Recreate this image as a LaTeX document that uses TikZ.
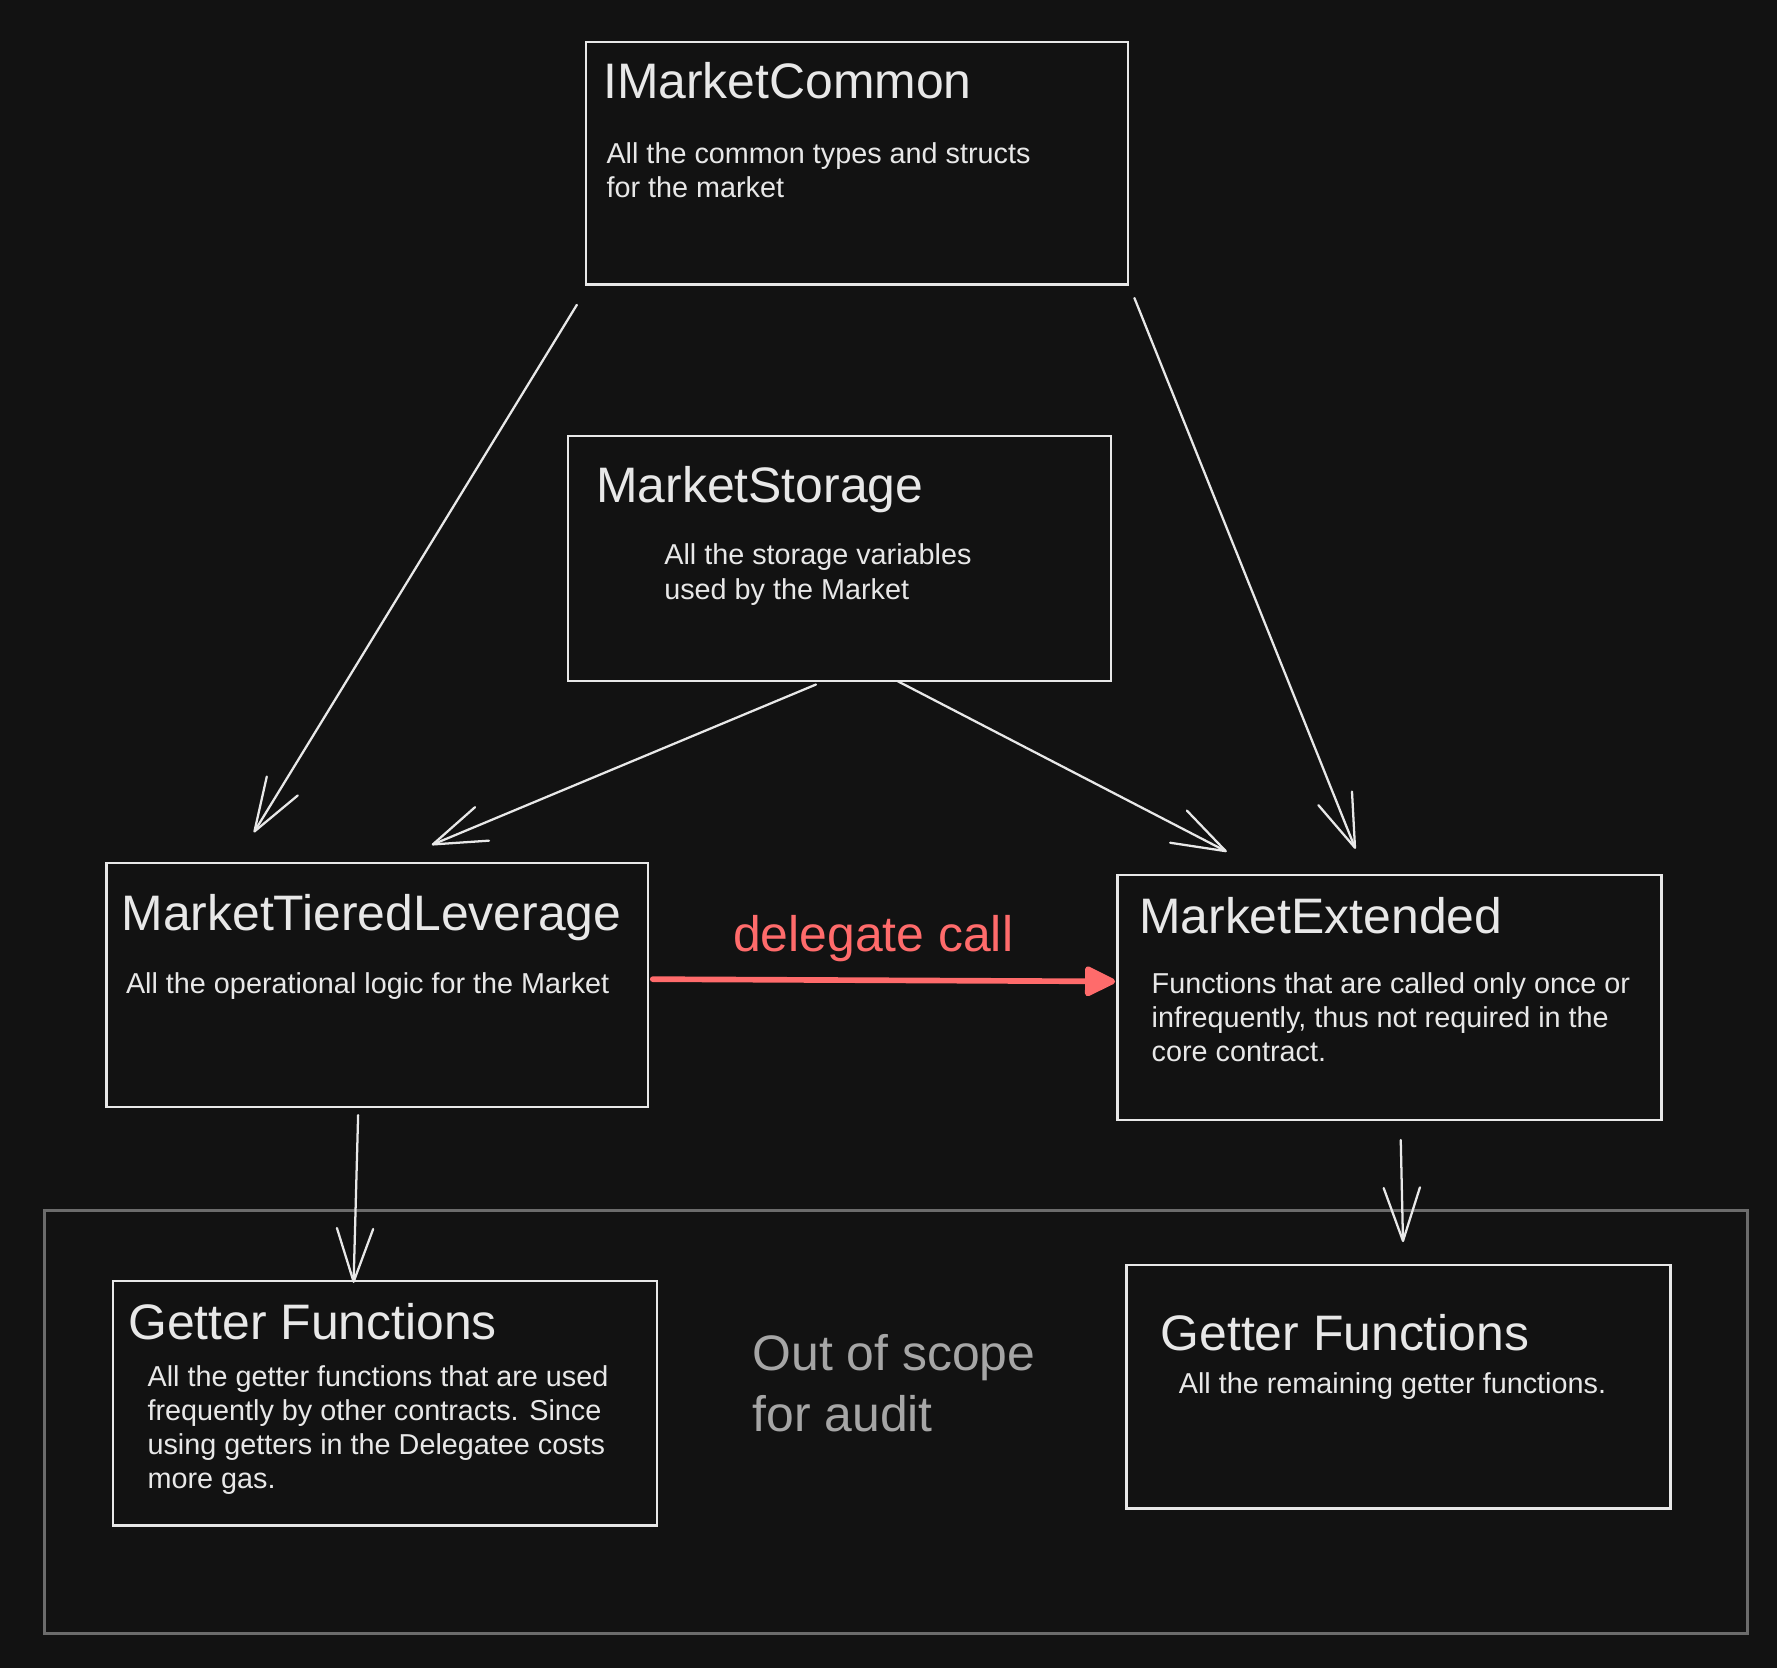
\documentclass[tikz,border=0pt]{standalone}
\usepackage{fontspec}
\setmainfont{Liberation Sans}
\usetikzlibrary{arrows.meta,calc}
\definecolor{bg}{HTML}{121212}
\definecolor{ink}{HTML}{E8E8E8}
\definecolor{framegray}{HTML}{6C6C6C}
\definecolor{oosgray}{HTML}{A6A6A6}
\definecolor{dcred}{HTML}{FF6B6B}
\begin{document}
\begin{tikzpicture}[x=1pt,y=-1pt,
  box/.style={draw=ink, line width=2pt, fill=bg, rectangle, inner sep=0pt},
  ttl/.style={text=ink, font=\fontsize{44}{52}\selectfont, anchor=base west, inner sep=0pt},
  dsc/.style={text=ink, font=\fontsize{25.4}{30}\selectfont, anchor=north west, inner sep=0pt, align=left},
  arr/.style={draw=ink, line width=2pt, line cap=round, -{Straight Barb[length=47pt,width=32pt,round]}},
  redarr/.style={draw=dcred, line width=5pt, line cap=round, -{Triangle[length=30pt,width=28pt,round]}}]
\fill[bg] (0,0) rectangle (1568,1472);
\useasboundingbox (0,0) rectangle (1568,1472);

% out of scope frame
\node[draw=framegray, line width=2.5pt, rectangle, inner sep=0pt, minimum width=1503pt, minimum height=373pt] (oosframe) at (790.5,1254.5) {};
\node[text=oosgray, font=\fontsize{44}{54}\selectfont, anchor=north west, inner sep=0pt, align=left] (oostext) at (664,1165) {\rule{0pt}{44pt}Out of scope\\for audit};

% boxes
\node[box, minimum width=478pt, minimum height=214pt] (imc) at (756,144) {};
\node[box, minimum width=479pt, minimum height=216pt] (ms) at (740.5,493) {};
\node[box, minimum width=478pt, minimum height=215pt] (mtl) at (333,869) {};
\node[box, minimum width=480pt, minimum height=216pt] (me) at (1226,880) {};
\node[box, minimum width=480pt, minimum height=216pt] (gl) at (340,1238) {};
\node[box, minimum width=480pt, minimum height=215pt] (gr) at (1234,1223.5) {};

% texts
\node[ttl] (imct) at (532,87) {IMarketCommon};
\node[dsc] (imcd) at (535,119) {\rule{0pt}{25pt}All the common types and structs\\for the market};
\node[ttl] (mst) at (526,443) {MarketStorage};
\node[dsc, font=\fontsize{25.4}{31}\selectfont] (msd) at (586,473) {\rule{0pt}{25pt}All the storage variables\\used by the Market};
\node[ttl] (mtlt) at (107,821) {MarketTieredLeverage};
\node[dsc] (mtld) at (111,851) {\rule{0pt}{25pt}All the operational logic for the Market};
\node[ttl] (met) at (1005,823.5) {MarketExtended};
\node[dsc] (med) at (1016,851.5) {\rule{0pt}{25pt}Functions that are called only once or\\infrequently, thus not required in the\\core contract.};
\node[ttl] (glt) at (113,1182) {Getter Functions};
\node[dsc] (gld) at (130,1198.5) {\rule{0pt}{25pt}All the getter functions that are used\\frequently by other contracts. Since\\using getters in the Delegatee costs\\more gas.};
\node[ttl] (grt) at (1024,1192) {Getter Functions};
\node[dsc] (grd) at (1040,1204) {\rule{0pt}{25pt}All the remaining getter functions.};

% arrows
\draw[arr] ($(imc.south west)+(-7,17)$) -- ($(mtl.north west)+(131,-26)$);
\draw[arr] ($(imc.south east)+(5,11)$) -- ($(me.north west)+(211,-22)$);
\draw[arr] ($(ms.south)+(-20.5,2)$) -- ($(mtl.north)+(48,-15)$);
\draw[arr] ($(ms.south)+(51.5,-1)$) -- ($(me.north west)+(97.5,-19.5)$);
\draw[arr] ($(mtl.south)+(-17,6.5)$) -- ($(gl.north)+(-28,3)$);
\draw[arr] ($(me.south)+(10,17)$) -- ($(gr.north)+(4,-19)$);
\draw[redarr] ($(mtl.east)+(3,-5)$) -- ($(me.west)+(-1,-14)$);
\node[text=dcred, font=\fontsize{44}{52}\selectfont, anchor=base, inner sep=0pt] (dclabel) at (770.5,840) {delegate call};
\end{tikzpicture}
\end{document}
